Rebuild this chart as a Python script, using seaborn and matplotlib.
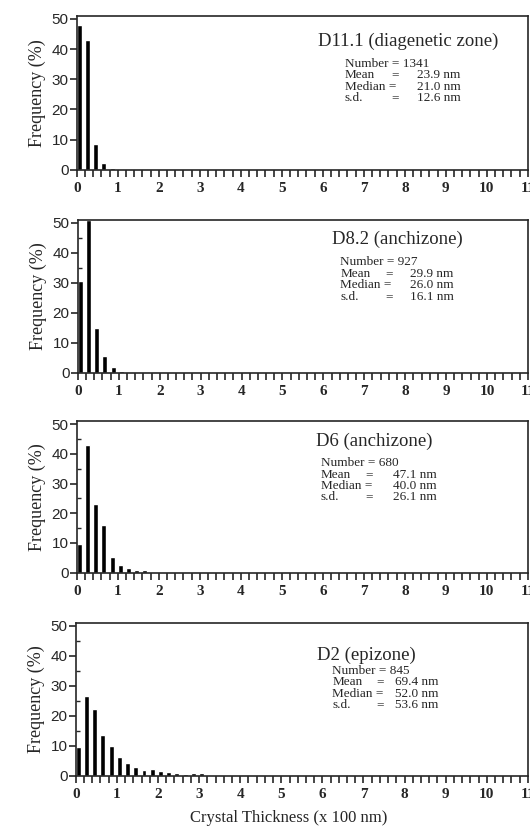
import numpy as np
import matplotlib.pyplot as plt
import seaborn as sns
from matplotlib.ticker import MultipleLocator

# Frequency (%) per 20 nm thickness class (x 100 nm)
bin_width = 0.2
d11_freq = [48.0, 43.0, 8.5, 2.3, 0.5, 0.4, 0.4, 0.4, 0.3]
d82_freq = [30.5, 51.0, 14.8, 5.7, 1.8, 0.5, 0.4, 0.4, 0.4, 0.3]
d6_freq = [9.6, 43.0, 23.0, 16.0, 5.2, 2.5, 1.7, 1.0, 1.0]
d2_freq = [9.5, 26.5, 22.3, 13.5, 9.8, 6.4, 4.3, 2.8, 1.9, 2.4, 1.7, 1.3, 1.0, 0.6, 0.9, 0.8]

titles = ["D11.1 (diagenetic zone)", "D8.2 (anchizone)", "D6 (anchizone)", "D2 (epizone)"]
numbers = ["1341", "927", "680", "845"]
means = ["23.9 nm", "29.9 nm", "47.1 nm", "69.4 nm"]
medians = ["21.0 nm", "26.0 nm", "40.0 nm", "52.0 nm"]
sds = ["12.6 nm", "16.1 nm", "26.1 nm", "53.6 nm"]

series = [d11_freq, d82_freq, d6_freq, d2_freq]

sns.set_style("ticks")
plt.rcParams['font.family'] = ['Liberation Serif', 'DejaVu Serif']

fig = plt.figure(figsize=(5.3, 8.36), dpi=100)

# axes boxes in figure fraction (left, bottom, width, height)
boxes = [
    (0.145, 0.797, 0.851, 0.184),
    (0.147, 0.554, 0.849, 0.183),
    (0.145, 0.315, 0.851, 0.181),
    (0.143, 0.072, 0.853, 0.183),
]
# text layout: (title x, title y, stats x, eq x, value x, first line y)
text_pos = [
    (0.535, 0.835, 0.594, 0.698, 0.754, 0.690),
    (0.565, 0.870, 0.583, 0.683, 0.738, 0.722),
    (0.530, 0.870, 0.541, 0.640, 0.700, 0.722),
    (0.534, 0.790, 0.567, 0.665, 0.707, 0.685),
]
line_step = 0.075

for i, freq in enumerate(series):
    ax = fig.add_axes(boxes[i])
    starts = np.arange(len(freq)) * bin_width
    sns.barplot(x=starts + 0.06, y=freq, native_scale=True, color='black',
                width=0.6, errorbar=None, ax=ax, saturation=1)
    ax.set_xlim(0, 11)
    ax.set_ylim(0, 51)
    ax.xaxis.set_major_locator(MultipleLocator(1))
    ax.xaxis.set_minor_locator(MultipleLocator(0.2))
    ax.yaxis.set_major_locator(MultipleLocator(10))
    ax.yaxis.set_minor_locator(MultipleLocator(5))
    ax.tick_params(axis='x', which='both', direction='out', length=5, width=1.2, pad=4)
    ax.tick_params(axis='y', which='major', direction='out', length=5, width=1.2, pad=1)
    ax.tick_params(axis='y', which='minor', direction='in', length=3, width=1)
    for lab in ax.get_xticklabels():
        lab.set_fontfamily('Liberation Serif')
        lab.set_fontweight('bold')
        lab.set_fontsize(11)
    for lab in ax.get_yticklabels():
        lab.set_fontfamily('Liberation Sans')
        lab.set_fontsize(11)
    for sp in ax.spines.values():
        sp.set_linewidth(1.2)
        sp.set_visible(True)
    ax.set_xlabel("")
    ax.set_ylabel("Frequency (%)", fontsize=13, labelpad=4)

    tx, ty, sx, ex, vx, y0 = text_pos[i]
    kw = dict(transform=ax.transAxes, va='center', ha='left', fontsize=9.5)
    ax.text(tx, ty, titles[i], transform=ax.transAxes, va='center', ha='left', fontsize=13.5)
    ax.text(sx, y0, "Number = " + numbers[i], **kw)
    ax.text(sx, y0 - line_step, "Mean", **kw)
    ax.text(ex, y0 - line_step, "=", **kw)
    ax.text(vx, y0 - line_step, means[i], **kw)
    ax.text(sx, y0 - 2 * line_step, "Median =", **kw)
    ax.text(vx, y0 - 2 * line_step, medians[i], **kw)
    ax.text(sx, y0 - 3 * line_step, "s.d.", **kw)
    ax.text(ex, y0 - 3 * line_step, "=", **kw)
    ax.text(vx, y0 - 3 * line_step, sds[i], **kw)

fig.text(0.545, 0.012, "Crystal Thickness (x 100 nm)", ha='center', va='bottom', fontsize=12)

fig.savefig("out.png", dpi=100)
